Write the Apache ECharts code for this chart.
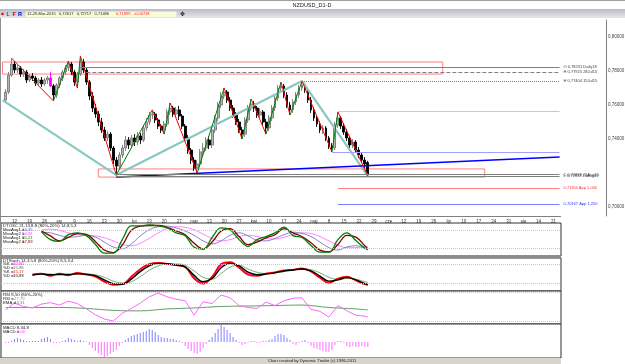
<!DOCTYPE html>
<html>
<head>
<meta charset="utf-8">
<title>NZDUSD_D1-D</title>
<script src="https://cdn.jsdelivr.net/npm/echarts@6.0.0/dist/echarts.min.js"></script>
<style>
  html, body { margin: 0; padding: 0; background: #fff; }
  #chart { width: 625px; height: 364px; }
</style>
</head>
<body>
<div id="chart"></div>
<script>
// weekly date labels under the price panel (first one sits on day 3, then every 5 trading days)
var weekLabels = ['12', '19', '26', 'sty', '9', '16', '23', '30', 'lut', '13', '20', '27', 'mar', '13', '20', '27',
  'kwi', '10', '17', '24', 'maj', '8', '15', '22', '29', 'cze', '12', '19', '26', 'lip', '10', '17', '24', '31',
  'sie', '14', '21'];

// price axis labels (0,72000 is hidden behind the last price box)
var priceTicks = [0.70, 0.74, 0.76, 0.78, 0.80];
var lastClose = 0.71899;

// daily candles [open, close, low, high]
var candles = [
  [0.7629, 0.7676, 0.7612, 0.7694], [0.7676, 0.7776, 0.7665, 0.7794], [0.7776, 0.7841, 0.7765, 0.7876],
  [0.7841, 0.7806, 0.7788, 0.7859], [0.7806, 0.7818, 0.7788, 0.7835], [0.7818, 0.7782, 0.7765, 0.7829],
  [0.7782, 0.7794, 0.7765, 0.7812], [0.7794, 0.7747, 0.7729, 0.7806], [0.7747, 0.7771, 0.7735, 0.7782],
  [0.7771, 0.7759, 0.7741, 0.7788], [0.7759, 0.7729, 0.7712, 0.7771], [0.7729, 0.7747, 0.7718, 0.7759],
  [0.7747, 0.7724, 0.7706, 0.7765], [0.7724, 0.7747, 0.7712, 0.7759], [0.7747, 0.7759, 0.7724, 0.7771],
  [0.7759, 0.7712, 0.7706, 0.7794], [0.7712, 0.7659, 0.7624, 0.7724], [0.7659, 0.7718, 0.7641, 0.7729],
  [0.7718, 0.7759, 0.7700, 0.7771], [0.7759, 0.7794, 0.7741, 0.7806], [0.7794, 0.7818, 0.7776, 0.7835],
  [0.7818, 0.7841, 0.7800, 0.7859], [0.7841, 0.7794, 0.7776, 0.7853], [0.7794, 0.7735, 0.7712, 0.7806],
  [0.7735, 0.7782, 0.7700, 0.7794], [0.7782, 0.7853, 0.7771, 0.7888], [0.7853, 0.7806, 0.7788, 0.7871],
  [0.7806, 0.7735, 0.7718, 0.7818], [0.7735, 0.7653, 0.7629, 0.7747], [0.7653, 0.7582, 0.7559, 0.7676],
  [0.7582, 0.7547, 0.7524, 0.7606], [0.7547, 0.7500, 0.7476, 0.7565], [0.7500, 0.7453, 0.7435, 0.7524],
  [0.7453, 0.7406, 0.7388, 0.7471], [0.7406, 0.7429, 0.7388, 0.7447], [0.7429, 0.7347, 0.7329, 0.7441],
  [0.7347, 0.7276, 0.7253, 0.7359], [0.7276, 0.7241, 0.7188, 0.7294], [0.7241, 0.7306, 0.7224, 0.7324],
  [0.7306, 0.7347, 0.7288, 0.7365], [0.7347, 0.7394, 0.7329, 0.7418], [0.7394, 0.7365, 0.7341, 0.7412],
  [0.7365, 0.7406, 0.7347, 0.7424], [0.7406, 0.7382, 0.7359, 0.7429], [0.7382, 0.7418, 0.7365, 0.7441],
  [0.7418, 0.7394, 0.7371, 0.7435], [0.7394, 0.7465, 0.7382, 0.7482], [0.7465, 0.7500, 0.7447, 0.7524],
  [0.7500, 0.7541, 0.7482, 0.7559], [0.7541, 0.7547, 0.7518, 0.7571], [0.7547, 0.7512, 0.7494, 0.7559],
  [0.7512, 0.7476, 0.7459, 0.7524], [0.7476, 0.7453, 0.7435, 0.7488], [0.7453, 0.7488, 0.7429, 0.7506],
  [0.7488, 0.7559, 0.7471, 0.7576], [0.7559, 0.7582, 0.7541, 0.7612], [0.7582, 0.7547, 0.7529, 0.7594],
  [0.7547, 0.7571, 0.7529, 0.7588], [0.7571, 0.7535, 0.7512, 0.7594], [0.7535, 0.7476, 0.7459, 0.7547],
  [0.7476, 0.7406, 0.7388, 0.7488], [0.7406, 0.7335, 0.7312, 0.7424], [0.7335, 0.7276, 0.7253, 0.7347],
  [0.7276, 0.7229, 0.7212, 0.7294], [0.7229, 0.7253, 0.7200, 0.7276], [0.7253, 0.7324, 0.7235, 0.7341],
  [0.7324, 0.7347, 0.7300, 0.7376], [0.7347, 0.7394, 0.7329, 0.7412], [0.7394, 0.7365, 0.7341, 0.7418],
  [0.7365, 0.7453, 0.7347, 0.7471], [0.7453, 0.7524, 0.7435, 0.7541], [0.7524, 0.7600, 0.7506, 0.7618],
  [0.7600, 0.7653, 0.7582, 0.7676], [0.7653, 0.7676, 0.7635, 0.7700], [0.7676, 0.7629, 0.7612, 0.7688],
  [0.7629, 0.7582, 0.7565, 0.7647], [0.7582, 0.7541, 0.7524, 0.7600], [0.7541, 0.7500, 0.7482, 0.7559],
  [0.7500, 0.7453, 0.7435, 0.7518], [0.7453, 0.7429, 0.7400, 0.7471], [0.7429, 0.7512, 0.7412, 0.7529],
  [0.7512, 0.7582, 0.7494, 0.7600], [0.7582, 0.7606, 0.7565, 0.7635], [0.7606, 0.7582, 0.7559, 0.7624],
  [0.7582, 0.7541, 0.7524, 0.7594], [0.7541, 0.7559, 0.7524, 0.7582], [0.7559, 0.7500, 0.7482, 0.7571],
  [0.7500, 0.7465, 0.7429, 0.7518], [0.7465, 0.7524, 0.7447, 0.7541], [0.7524, 0.7582, 0.7506, 0.7600],
  [0.7582, 0.7641, 0.7565, 0.7659], [0.7641, 0.7700, 0.7624, 0.7718], [0.7700, 0.7712, 0.7682, 0.7735],
  [0.7712, 0.7659, 0.7641, 0.7724], [0.7659, 0.7600, 0.7582, 0.7676], [0.7600, 0.7571, 0.7541, 0.7618],
  [0.7571, 0.7618, 0.7553, 0.7635], [0.7618, 0.7659, 0.7600, 0.7676], [0.7659, 0.7700, 0.7641, 0.7718],
  [0.7700, 0.7718, 0.7682, 0.7741], [0.7718, 0.7688, 0.7671, 0.7729], [0.7688, 0.7629, 0.7612, 0.7700],
  [0.7629, 0.7571, 0.7553, 0.7647], [0.7571, 0.7524, 0.7506, 0.7588], [0.7524, 0.7488, 0.7471, 0.7541],
  [0.7488, 0.7453, 0.7435, 0.7506], [0.7453, 0.7465, 0.7429, 0.7482], [0.7465, 0.7406, 0.7388, 0.7476],
  [0.7406, 0.7359, 0.7341, 0.7418], [0.7359, 0.7347, 0.7324, 0.7376], [0.7347, 0.7482, 0.7335, 0.7500],
  [0.7482, 0.7524, 0.7465, 0.7559], [0.7524, 0.7476, 0.7459, 0.7535], [0.7476, 0.7441, 0.7424, 0.7494],
  [0.7441, 0.7406, 0.7388, 0.7459], [0.7406, 0.7365, 0.7347, 0.7418], [0.7365, 0.7382, 0.7347, 0.7400],
  [0.7382, 0.7335, 0.7318, 0.7394], [0.7335, 0.7306, 0.7288, 0.7353], [0.7306, 0.7276, 0.7259, 0.7324],
  [0.7276, 0.7253, 0.7229, 0.7294], [0.72617, 0.71899, 0.7182, 0.72717]
];
var markedBar = 15; // the magenta bar

// swing pivots (zigzag)
var pivotDays = [2, 16, 21, 24, 25, 37, 49, 53, 55, 64, 73, 79, 82, 87, 92, 95, 99, 109, 111, 121];
var pivotPrices = [0.7876, 0.7624, 0.7859, 0.7700, 0.7888, 0.7188, 0.7571, 0.7429, 0.7612, 0.7200,
  0.7700, 0.7400, 0.7635, 0.7429, 0.7735, 0.7541, 0.7741, 0.7324, 0.7559, 0.7182];

// thick teal swing line and blue trend line
var tealDays = [-1, 37, 99, 121];
var tealPrices = [0.7629, 0.7188, 0.7741, 0.7182];
var trendDays = [37, 185];
var trendPrices = [0.7176, 0.7294];

// horizontal price levels on the right
var levelPrices = [0.78231, 0.77925, 0.77404, 0.75647, 0.73235, 0.71899, 0.71833, 0.71104, 0.70167];
var levelStartDays = [25, 27, 99, 111, 109, 37, 37, 111, 111];
var levelEndDay = 185;
var levelTexts = ['O 0,78231 Daily18', 'H 0,77925 28Jul15', 'H 0,77404 15Jul15', '', '',
  'C 0,71899 25Aug15', 'L 0,71833 14Aug15', '0,71104 App 1,000', '0,70167 App 1,250'];

// pink boxes
var boxStartDays = [-1, 31];
var boxEndDays = [146, 160];
var boxHigh = [0.7853, 0.7224];
var boxLow = [0.7782, 0.7176];

// DTOSC
var oscDays = [12, 15, 18, 21, 24, 27, 30, 33, 36, 39, 42, 45, 48, 51, 54, 57, 60, 63, 66, 69,
  72, 75, 78, 81, 84, 87, 90, 93, 96, 99, 102, 105, 108, 111, 114, 117, 120, 121];
var oscGreen = [74, 48, 42, 64, 70, 61, 33, 4, 4, 48, 93, 93, 96, 93, 86, 70, 61, 23, 17, 55,
  86, 80, 48, 26, 48, 58, 70, 89, 61, 55, 29, 7, 7, 48, 70, 45, 20, 15];
var oscRed = [76, 60, 44, 55, 68, 65, 42, 14, 6, 30, 78, 92, 94, 94, 88, 76, 64, 36, 18, 40,
  76, 84, 58, 32, 40, 54, 64, 84, 70, 58, 38, 14, 8, 32, 62, 56, 28, 18];
var oscBlue = [72, 70, 62, 56, 58, 62, 56, 40, 24, 18, 34, 60, 80, 90, 92, 86, 76, 62, 44, 34,
  44, 62, 70, 60, 46, 44, 52, 64, 72, 68, 58, 40, 22, 14, 24, 28, 20, 16];
var oscMagenta = [80, 82, 78, 70, 64, 62, 60, 54, 44, 32, 28, 36, 52, 70, 84, 90, 88, 80, 66, 52,
  44, 48, 58, 62, 58, 52, 50, 56, 64, 70, 68, 58, 44, 30, 22, 22, 25, 25];

// DTStoch
var stochDays = [9, 12, 15, 18, 21, 24, 27, 30, 33, 36, 39, 42, 45, 48, 51, 54, 57, 60, 63, 66,
  69, 72, 75, 78, 81, 84, 87, 90, 93, 96, 99, 102, 105, 108, 111, 114, 117, 120, 121];
var stochRed = [46, 50, 42, 50, 44, 52, 46, 40, 24, 14, 16, 40, 64, 80, 84, 80, 76, 70, 34, 18,
  40, 80, 86, 68, 46, 42, 50, 54, 60, 62, 66, 56, 36, 20, 34, 40, 28, 16, 15];
var stochBlack = [45, 48, 46, 47, 47, 49, 48, 43, 30, 18, 16, 32, 56, 74, 82, 81, 77, 71, 44, 24,
  34, 68, 82, 74, 54, 46, 48, 52, 58, 61, 64, 58, 42, 26, 30, 37, 30, 18, 16];
var stochGreen = [50, 49, 48, 47, 47, 48, 48, 46, 38, 26, 20, 24, 40, 60, 74, 80, 80, 76, 58, 38,
  32, 50, 70, 76, 64, 54, 50, 52, 56, 60, 64, 62, 52, 38, 32, 34, 32, 24, 22];
var stochMagenta = [44, 50, 44, 49, 45, 50, 47, 41, 26, 15, 15, 36, 60, 78, 83, 80, 76, 70, 38, 20,
  36, 74, 84, 70, 50, 44, 49, 53, 59, 62, 65, 57, 39, 23, 32, 38, 29, 17, 11];

// RSI and its EMA
var rsiDays = [0, 3, 6, 9, 12, 15, 18, 21, 24, 27, 30, 33, 36, 39, 42, 45, 48, 51, 54, 57,
  60, 63, 66, 69, 72, 75, 78, 81, 84, 87, 90, 93, 96, 99, 102, 105, 108, 111, 114, 117, 120, 121];
var rsiValues = [43, 57, 50, 47, 55, 58, 53, 61, 56, 45, 33, 24, 20, 36, 46, 57, 70, 78, 70, 65,
  62, 32, 60, 56, 74, 68, 52, 48, 46, 59, 52, 62, 67, 68, 44, 40, 28, 52, 41, 32, 30, 28];
var emaDays = [0, 9, 18, 27, 36, 45, 54, 63, 72, 81, 90, 99, 108, 117, 121];
var emaValues = [48, 48, 48, 46, 42, 41, 45, 47, 50, 51, 52, 53, 48, 45, 43];

// MACD histogram, in pips, one bar per day
var macdPips = [-2, -2, 2, 6, 8, 6, 4, 2, 2, 2, 2, 2, 6, 8, 10, 6, -2, -2, -2, 2,
  4, 8, 6, 4, 2, 4, 2, 1, -6, -12, -18, -22, -26, -30, -28, -24, -20, -16, -8, -2,
  4, 8, 12, 14, 16, 18, 20, 22, 26, 24, 20, 14, 10, 8, 8, 6, 6, 4, 2, -2,
  -8, -14, -18, -22, -24, -20, -12, -4, 4, 10, 18, 26, 34, 30, 24, 18, 10, 4, -2, -6,
  -4, -2, 2, 2, -2, -2, 2, 2, 4, 6, 12, 16, 16, 14, 8, 4, -4, -6, -2, 2,
  4, -2, -8, -12, -14, -16, -18, -20, -20, -16, -6, 2, 2, -2, -8, -10, -8, -10, -10, -8,
  -10, -10];

var FONT = '"Liberation Sans", Arial, sans-serif';
var MAIN_N = 202, LOW_N = 187;
var X0 = 1; // one empty slot before the first day

function k(d) { return d + X0; }
function pairs(days, vals) {
  return days.map(function (d, j) { return [k(d), vals[j]]; });
}

var mainCats = [];
for (var i = 0; i < MAIN_N; i++) mainCats.push('');
weekLabels.forEach(function (t, w) { mainCats[k(3 + 5 * w)] = t; });
var lowCats = [];
for (var i2 = 0; i2 < LOW_N; i2++) lowCats.push(String(i2));

var candleData = candles.map(function (c, d) {
  var item = { value: [k(d)].concat(c) };
  if (d === markedBar) {
    item.itemStyle = { color: '#ff00ff', color0: '#ff00ff', borderColor: '#ff00ff', borderColor0: '#ff00ff' };
  }
  return item;
});

var levelColors = ['#808080', '#808080', '#7070f0', '#c8c8dc', '#a0a0ff', '#808080', '#808080', '#ff8080', '#8080ff'];
var levelTypes = ['solid', 'dashed', 'dotted', 'solid', 'solid', 'solid', 'solid', 'solid', 'solid'];
var levelTextColors = ['#404040', '#404040', '#404040', '#404040', '#404040', '#404040', '#404040', '#ff3030', '#3030ff'];

var markLines = levelPrices.map(function (p, j) {
  return [
    {
      coord: [k(levelStartDays[j]), p],
      lineStyle: { color: levelColors[j], type: levelTypes[j], width: 1 },
      label: {
        show: levelTexts[j] !== '', formatter: levelTexts[j], color: levelTextColors[j],
        fontSize: 4, fontFamily: FONT, position: 'end', distance: 4
      }
    },
    { coord: [k(levelEndDay), p] }
  ];
});
markLines.push({
  yAxis: lastClose,
  lineStyle: { opacity: 0 },
  label: {
    show: true, position: 'end', distance: 1,
    formatter: lastClose.toFixed(5).replace('.', ','),
    backgroundColor: '#ffff00', color: '#000', fontSize: 4.5, fontFamily: FONT, padding: [1, 3, 0, 2]
  }
});

var markAreas = boxStartDays.map(function (s, j) {
  return [
    { coord: [k(s), boxHigh[j]], itemStyle: { color: 'rgba(0,0,0,0)', borderColor: '#ff8080', borderWidth: 1 } },
    { coord: [k(boxEndDays[j]), boxLow[j]] }
  ];
});

var series = [{
  type: 'candlestick',
  xAxisIndex: 0, yAxisIndex: 0,
  barWidth: 2.4,
  encode: { x: 0, y: [1, 2, 3, 4] },
  data: candleData,
  itemStyle: { color: '#b4b4b4', color0: '#000000', borderColor: '#787878', borderColor0: '#000000', borderWidth: 0.9 },
  markLine: { silent: true, symbol: ['none', 'none'], animation: false, data: markLines },
  markArea: { silent: true, animation: false, data: markAreas }
}, {
  type: 'line', xAxisIndex: 0, yAxisIndex: 0, symbol: 'none', silent: true,
  data: pairs(tealDays, tealPrices),
  lineStyle: { color: '#88c8c0', width: 2.2 }
}, {
  type: 'line', xAxisIndex: 0, yAxisIndex: 0, symbol: 'none', silent: true,
  data: pairs(trendDays, trendPrices),
  lineStyle: { color: '#0000ff', width: 1.5 }
}];

// zigzag: red legs down, green legs up
for (var j = 0; j < pivotDays.length - 1; j++) {
  var down = pivotPrices[j + 1] < pivotPrices[j];
  series.push({
    type: 'line', xAxisIndex: 0, yAxisIndex: 0, symbol: 'none', silent: true,
    data: [[k(pivotDays[j]), pivotPrices[j]], [k(pivotDays[j + 1]), pivotPrices[j + 1]]],
    lineStyle: { color: down ? '#ff0000' : '#008000', width: 1 }
  });
}

var levels8020 = {
  silent: true, symbol: ['none', 'none'], animation: false,
  label: { show: false },
  lineStyle: { color: '#c8c8c8', type: 'dotted', width: 1 },
  data: [{ yAxis: 80 }, { yAxis: 20 }]
};

function osc(grid, days, vals, color, width, extra) {
  var s = {
    type: 'line', xAxisIndex: grid, yAxisIndex: grid, symbol: 'none', silent: true,
    smooth: 0.4, data: pairs(days, vals), lineStyle: { color: color, width: width }
  };
  if (extra) s.markLine = levels8020;
  return s;
}

series.push(osc(1, oscDays, oscMagenta, '#ff80ff', 1, true));
series.push(osc(1, oscDays, oscBlue, '#8080c8', 1));
series.push(osc(1, oscDays, oscRed, '#800000', 1.3));
series.push(osc(1, oscDays, oscGreen, '#008000', 1.3));

series.push(osc(2, stochDays, stochGreen, '#70b070', 1, true));
series.push(osc(2, stochDays, stochMagenta, '#ff00ff', 1));
series.push(osc(2, stochDays, stochRed, '#ff0000', 1.6));
series.push(osc(2, stochDays, stochBlack, '#000000', 1.4));

series.push(osc(3, emaDays, emaValues, '#60a060', 1, true));
var rsiSeries = osc(3, rsiDays, rsiValues, '#ff66ff', 1);
rsiSeries.smooth = false;
series.push(rsiSeries);

series.push({
  type: 'bar', xAxisIndex: 4, yAxisIndex: 4, barWidth: 1, silent: true,
  data: macdPips.map(function (v, d) { return [k(d), v]; }),
  itemStyle: {
    color: function (p) { return p.value[1] >= 0 ? '#8080ff' : '#ff70ff'; }
  }
});

var gridBase = { left: 1, width: 560, show: true, borderColor: '#303030', borderWidth: 1, backgroundColor: '#ffffff', outerBoundsMode: 'none' };
function g(top, height) { return Object.assign({}, gridBase, { top: top, height: height }); }

var xAxes = [{
  type: 'category', gridIndex: 0, data: mainCats, boundaryGap: true,
  axisLine: { show: false }, axisTick: { show: false }, splitLine: { show: false },
  axisLabel: { interval: 0, fontSize: 4.5, color: '#303030', fontFamily: FONT, margin: 3 }
}];
var yAxes = [{
  type: 'value', gridIndex: 0, position: 'right', min: 0.69471, max: 0.81,
  splitLine: { show: false },
  axisLine: { show: true, lineStyle: { color: '#808080', width: 1 } },
  axisTick: { show: false },
  axisLabel: {
    customValues: priceTicks, fontSize: 4.5, color: '#404040', fontFamily: FONT, margin: 2,
    formatter: function (v) { return v.toFixed(5).replace('.', ','); }
  }
}];
var lowRanges = [[-5.3, 102.1], [-5.3, 98.9], [13.8, 82.1], [-32, 36]];
for (var p = 1; p <= 4; p++) {
  xAxes.push({ type: 'category', gridIndex: p, data: lowCats, boundaryGap: true, show: false });
  yAxes.push({ type: 'value', gridIndex: p, min: lowRanges[p - 1][0], max: lowRanges[p - 1][1], show: false, splitLine: { show: false } });
}

function txt(x, y, s, color, size, align, weight) {
  return {
    type: 'text', x: x, y: y, silent: true, z: 20,
    style: {
      text: s, fill: color || '#000000',
      font: (weight || 'normal') + ' ' + (size || 4.5) + 'px ' + FONT,
      align: align || 'left', verticalAlign: 'middle',
      textAlign: align || 'left', textVerticalAlign: 'middle'
    }
  };
}
function ln(x1, y1, x2, y2, color, w) {
  return { type: 'line', silent: true, z: 15, shape: { x1: x1, y1: y1, x2: x2, y2: y2 }, style: { stroke: color, lineWidth: w || 1 } };
}
function rc(x, y, w, h, fill, z) {
  return { type: 'rect', silent: true, z: z || 1, shape: { x: x, y: y, width: w, height: h }, style: { fill: fill } };
}

var graphics = [
  rc(0, 0, 625, 1, '#a0a0a0'),
  txt(312, 5, 'NZDUSD_D1-D', '#202020', 5.5, 'center'),
  {
    type: 'rect', silent: true, z: 1, shape: { x: 0, y: 9, width: 625, height: 9 },
    style: { fill: new echarts.graphic.LinearGradient(0, 0, 0, 1, [{ offset: 0, color: '#b8bcc8' }, { offset: 1, color: '#e6e6ea' }]) }
  },
  { type: 'circle', silent: true, z: 20, shape: { cx: 2.5, cy: 14, r: 1.3 }, style: { fill: '#ff0000' } },
  txt(6.5, 14, 'L', '#406040', 5.5, 'left', 'bold'),
  txt(12.5, 14, 'F', '#c00000', 5.5, 'left', 'bold'),
  txt(18, 14, 'R', '#0000c0', 5.5, 'left', 'bold'),
  rc(25.5, 11.5, 151, 5.5, '#fbfbd8', 10),
  txt(27, 14.3, '12-29-Mar-2015   0,72617   0,72717   0,71486', '#202020', 4),
  txt(116, 14.3, '0,71899   -0,00718', '#ff2020', 4),
  txt(180, 14, '\u2725', '#000000', 6),
  ln(0.5, 18, 0.5, 358, '#909090'),
  ln(0, 216.5, 561, 216.5, '#808080'),
  rc(0, 255.5, 561, 2.5, '#8c8c8c', 16),
  rc(0, 358, 561, 6, '#d8d4cc', 1),
  txt(312, 361, 'Chart created by Dynamic Trader (c) 1996-2011', '#202020', 4.2, 'center'),

  txt(3, 226, 'DTOSC 21,13,8,8 (80%-20%) 14,8,5,3', '#202020', 4.3),
  txt(3, 230, 'MovAvg1 = ', '#202020', 4.3), txt(22, 230, '14,35', '#6060c0', 4.3),
  txt(3, 234, 'MovAvg2 = ', '#202020', 4.3), txt(22, 234, '24,84', '#ff40ff', 4.3),
  txt(3, 238, 'MovAvg1 = ', '#202020', 4.3), txt(22, 238, '15,21', '#008000', 4.3),
  txt(3, 242, 'MovAvg2 = ', '#202020', 4.3), txt(22, 242, '17,83', '#900000', 4.3),

  txt(3, 260.5, 'DTStoch 14,3,5,8 (80%-20%) 8,5,3,4', '#202020', 4.3),
  txt(3, 264, '%K = ', '#202020', 4.3), txt(13, 264, '10,90', '#ff00ff', 4.3),
  txt(3, 268, '%D = ', '#202020', 4.3), txt(13, 268, '15,96', '#408040', 4.3),
  txt(3, 272, '%K = ', '#202020', 4.3), txt(13, 272, '15,17', '#ff0000', 4.3),
  txt(3, 276, '%D = ', '#202020', 4.3), txt(13, 276, '15,93', '#000000', 4.3),

  txt(3, 294.5, 'RSI 8,50 (80%-20%)', '#202020', 4.3),
  txt(3, 298.5, 'RSI = ', '#202020', 4.3), txt(14, 298.5, '27,79', '#ff40ff', 4.3),
  txt(3, 302.5, 'EMA = ', '#202020', 4.3), txt(14, 302.5, '43,31', '#40a040', 4.3),

  txt(3, 328, 'MACD 8,34,8', '#202020', 4.3),
  txt(3, 332, 'MACD = ', '#202020', 4.3), txt(17, 332, '0,00', '#ff40ff', 4.3)
];

var option = {
  animation: false,
  backgroundColor: '#ffffff',
  textStyle: { fontFamily: FONT },
  grid: [
    { left: 1, top: 20, width: 605, height: 196, show: false, outerBoundsMode: 'none' },
    g(223, 33), g(258, 33), g(291, 33), g(324, 34)
  ],
  xAxis: xAxes,
  yAxis: yAxes,
  series: series,
  graphic: { elements: graphics }
};

var chart = echarts.init(document.getElementById('chart'), null, { renderer: 'canvas' });
chart.setOption(option);
window.addEventListener('resize', function () { chart.resize(); });
</script>
</body>
</html>
